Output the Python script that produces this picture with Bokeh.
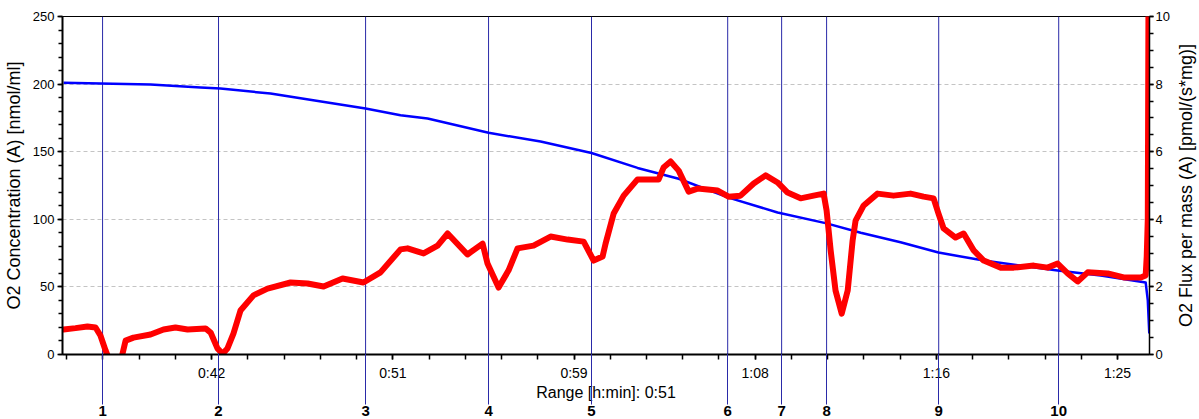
from bokeh.plotting import figure
from bokeh.layouts import row
from bokeh.models import Range1d, LinearAxis, FixedTicker
from bokeh.embed import file_html
from bokeh.resources import INLINE

# O2 concentration in the chamber [nmol/ml] against time [min]
conc_t = [35.55, 37.28, 39.63, 41.98, 42.91, 45.26, 48.08, 49.72, 51.36, 52.63,
          55.49, 57.93, 60.32, 62.48, 64.41, 66.75, 69.05, 71.35, 72.95, 74.82,
          76.60, 78.72, 82.19, 84.21, 86.32, 86.42, 86.49]
conc_v = [201.0, 200.5, 199.7, 197.5, 196.7, 193.0, 186.0, 182.0, 177.0, 174.5,
          164.0, 157.5, 149.0, 138.0, 130.0, 116.0, 105.0, 97.0, 90.0, 83.0,
          75.4, 69.5, 62.1, 58.4, 53.3, 40.0, 15.5]

# O2 flux per mass [pmol/(s*mg)] against time [min]
flux_t = [35.55, 36.11, 36.67, 37.05, 37.28, 37.52, 37.66, 37.99, 38.27, 38.46,
          38.83, 39.63, 40.24, 40.80, 41.37, 42.21, 42.45, 42.77, 43.01, 43.24,
          43.52, 43.85, 44.46, 45.12, 46.20, 47.00, 47.75, 48.64, 49.62, 50.42,
          51.36, 51.69, 52.44, 53.10, 53.57, 54.50, 55.21, 55.44, 55.96, 56.43,
          56.85, 57.60, 58.40, 59.20, 59.95, 60.42, 60.84, 60.98, 61.36, 61.83,
          62.48, 63.47, 63.70, 64.03, 64.41, 64.88, 65.30, 66.24, 66.75, 67.31,
          67.93, 68.49, 69.05, 69.52, 70.13, 70.74, 71.21, 71.35, 71.54, 71.77,
          72.06, 72.34, 72.57, 72.71, 73.09, 73.74, 74.49, 75.29, 75.90, 76.37,
          76.60, 76.84, 77.40, 77.78, 78.25, 78.72, 79.52, 80.13, 81.07, 81.72,
          82.19, 82.66, 83.13, 83.60, 84.54, 85.29, 86.09, 86.32, 86.37, 86.42,
          86.46]
flux_v = [0.74, 0.78, 0.83, 0.80, 0.56, 0.12, -0.10, -0.40, -0.10, 0.41,
          0.50, 0.59, 0.74, 0.80, 0.74, 0.77, 0.65, 0.18, 0.02, 0.18,
          0.62, 1.30, 1.75, 1.95, 2.13, 2.10, 2.01, 2.25, 2.13, 2.43,
          3.11, 3.14, 2.99, 3.22, 3.58, 2.96, 3.28, 2.69, 1.98, 2.49,
          3.14, 3.22, 3.49, 3.40, 3.34, 2.78, 2.90, 3.28, 4.17, 4.70,
          5.18, 5.18, 5.53, 5.71, 5.44, 4.82, 4.91, 4.85, 4.67, 4.70,
          5.06, 5.30, 5.09, 4.79, 4.62, 4.70, 4.76, 4.26, 3.08, 1.89,
          1.21, 1.89, 3.37, 3.96, 4.41, 4.76, 4.70, 4.76, 4.67, 4.62,
          4.17, 3.73, 3.46, 3.58, 3.08, 2.78, 2.57, 2.57, 2.63, 2.57,
          2.69, 2.40, 2.16, 2.43, 2.40, 2.28, 2.28, 2.34, 2.90, 4.00,
          12.0]

# Protocol events (time [min]) and their marks
event_t = [37.38, 42.82, 49.72, 55.49, 60.32, 66.71, 69.24, 71.35, 76.61, 82.24]
event_labels = ["1", "2", "3", "4", "5", "6", "7", "8", "9", "10"]

# Time axis: ticks in minutes, shown as h:min
time_ticks = [42.5, 51.0, 59.5, 68.0, 76.5, 85.0]
time_tick_labels = ["0:42", "0:51", "0:59", "1:08", "1:16", "1:25"]
time_minor_ticks = [35.7 + 1.7 * i for i in range(30)]
range_label = "Range [h:min]: 0:51"

conc_label = "O2 Concentration (A) [nmol/ml]"
flux_label = "O2 Flux per mass (A) [pmol/(s*mg)]"

FONT = "Liberation Sans"
EVENT_COLOR = "#2a2aa8"
SIDE_W = 27  # narrow strip on the right holding the flux axis title


def style_axis(ax, label_size="18px", tick_size="13px"):
    ax.axis_label_text_font = FONT
    ax.axis_label_text_font_style = "normal"
    ax.axis_label_text_font_size = label_size
    ax.axis_label_text_color = "black"
    ax.major_label_text_font = FONT
    ax.major_label_text_font_size = tick_size
    ax.major_label_text_color = "black"
    ax.major_tick_in = 0
    ax.minor_tick_in = 0
    ax.major_tick_line_width = 1.5
    ax.minor_tick_line_width = 1.5


p = figure(width=1199 - SIDE_W, height=419, output_backend="svg",
           toolbar_location=None,
           x_range=Range1d(35.5, 86.5), y_range=Range1d(0, 250),
           min_border_left=62, min_border_right=23, min_border_top=16,
           min_border_bottom=65)
p.background_fill_color = "white"
p.border_fill_color = "white"
p.outline_line_color = "black"
p.outline_line_width = 1

# grid
p.xgrid.visible = False
p.ygrid.ticker = FixedTicker(ticks=[50, 100, 150, 200])
p.ygrid.grid_line_color = "#c4c4c4"
p.ygrid.grid_line_dash = "4 3"
p.ygrid.grid_line_width = 1

# bottom time axis
xa = p.xaxis[0]
style_axis(xa, label_size="16px", tick_size="14px")
xa.ticker = FixedTicker(ticks=time_ticks, minor_ticks=time_minor_ticks)
xa.major_label_overrides = dict(zip(time_ticks, time_tick_labels))
xa.axis_label = range_label
xa.axis_label_standoff = 0
xa.major_label_standoff = 5
xa.axis_line_width = 2
xa.major_tick_out = 5
xa.minor_tick_out = 5

# event numbers below the time axis; their ticks carry the event lines
# down through the time-axis band
ev_axis = LinearAxis(ticker=FixedTicker(ticks=event_t, minor_ticks=[]))
style_axis(ev_axis, tick_size="15px")
ev_axis.major_label_overrides = dict(zip(event_t, event_labels))
ev_axis.major_label_text_font_style = "bold"
ev_axis.axis_line_color = None
ev_axis.major_tick_in = 50
ev_axis.major_tick_out = 1
ev_axis.major_tick_line_color = EVENT_COLOR
ev_axis.major_tick_line_width = 1
ev_axis.major_label_standoff = 1
ev_axis.minor_tick_line_color = None
p.add_layout(ev_axis, "below")

# left concentration axis
ya = p.yaxis[0]
style_axis(ya)
ya.ticker = FixedTicker(ticks=[0, 50, 100, 150, 200, 250],
                        minor_ticks=list(range(0, 251, 10)))
ya.axis_label = conc_label
ya.axis_label_standoff = 6
ya.major_label_standoff = 3
ya.axis_line_width = 2
ya.major_tick_out = 5
ya.minor_tick_out = 4

# right flux axis (its title sits in the strip next to the figure)
p.extra_y_ranges = {"flux": Range1d(0, 10)}
ra = LinearAxis(y_range_name="flux",
                ticker=FixedTicker(ticks=[0, 2, 4, 6, 8, 10],
                                   minor_ticks=[0.5 * i for i in range(21)]))
style_axis(ra)
ra.major_label_standoff = 2
ra.axis_line_width = 1.5
ra.major_tick_out = 4
ra.minor_tick_out = 4
p.add_layout(ra, "right")

# event lines inside the plotting area
p.segment(x0=event_t, y0=[0] * len(event_t), x1=event_t, y1=[250] * len(event_t),
          line_color=EVENT_COLOR, line_width=1)

# series
p.line(conc_t, conc_v, line_color="#0000ff", line_width=2.5, line_join="round")
p.line(flux_t, flux_v, y_range_name="flux", line_color="#ff0000", line_width=6,
       line_join="round", line_cap="round")

# strip with the flux axis title, reading upwards like the left one
s = figure(width=SIDE_W, height=419, output_backend="svg", toolbar_location=None,
           x_range=Range1d(0, 1), y_range=Range1d(0, 10),
           min_border_left=24, min_border_right=0, min_border_top=16,
           min_border_bottom=65)
s.outline_line_color = None
s.background_fill_color = "white"
s.border_fill_color = "white"
s.xaxis.visible = False
s.xgrid.visible = False
s.ygrid.visible = False
sa = s.yaxis[0]
style_axis(sa)
sa.ticker = FixedTicker(ticks=[], minor_ticks=[])
sa.axis_line_color = None
sa.major_tick_line_color = None
sa.minor_tick_line_color = None
sa.major_tick_out = 0
sa.minor_tick_out = 0
sa.major_label_standoff = 0
sa.axis_label = flux_label
sa.axis_label_standoff = 1

layout = row(p, s, spacing=0)
open("out.html", "w").write(file_html(layout, INLINE))
